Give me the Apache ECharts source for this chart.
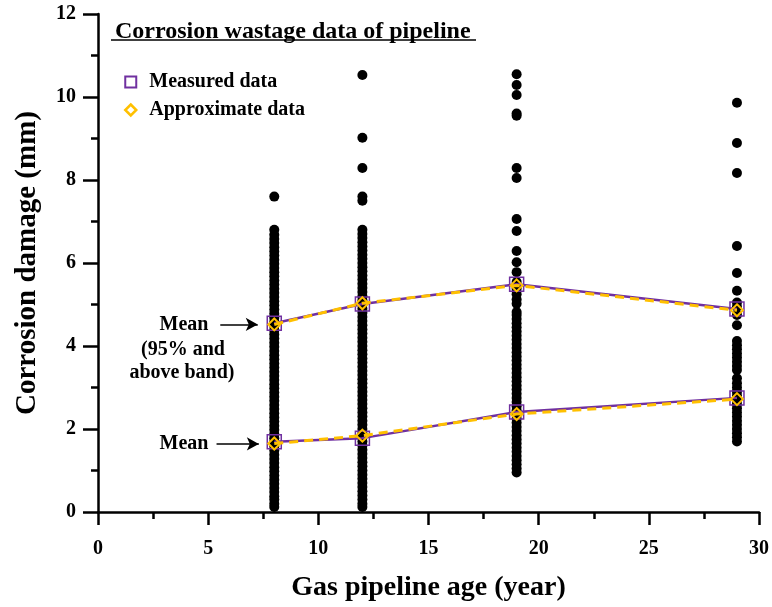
<!DOCTYPE html>
<html>
<head>
<meta charset="utf-8">
<script src="https://cdn.jsdelivr.net/npm/echarts@6/dist/echarts.min.js"></script>
<style>
  html, body { margin: 0; padding: 0; background: #fff; }
  #chart { width: 772px; height: 607px; }
</style>
</head>
<body>
<div id="chart"></div>
<script>
// Pipeline ages at which wall-loss readings were taken (years)
const ages = [8, 12, 19, 29];

// Individual corrosion depth readings (mm) per pipeline age
const depth8 = [0.12, 0.2, 0.3, 0.38, 0.48, 0.58, 0.68, 0.78, 0.88, 0.98, 1.08, 1.18, 1.28, 1.38, 1.48, 1.58,
  1.68, 1.78, 1.88, 1.98, 2.08, 2.18, 2.28, 2.38, 2.48, 2.58, 2.68, 2.78, 2.88, 2.98, 3.08, 3.18, 3.28, 3.38,
  3.48, 3.58, 3.68, 3.78, 3.88, 3.98, 4.08, 4.18, 4.28, 4.38, 4.48, 4.58, 4.68, 4.78, 4.88, 4.98, 5.08, 5.18,
  5.28, 5.38, 5.48, 5.58, 5.68, 5.78, 5.88, 5.98, 6.08, 6.18, 6.28, 6.38, 6.48, 6.58, 6.68, 6.8, 7.6];
const depth12 = [0.12, 0.2, 0.3, 0.4, 0.5, 0.6, 0.7, 0.8, 0.9, 1.0, 1.1, 1.2, 1.3, 1.4, 1.5, 1.6, 1.7, 1.8,
  1.9, 2.0, 2.1, 2.2, 2.3, 2.4, 2.5, 2.6, 2.7, 2.8, 2.9, 3.0, 3.1, 3.2, 3.3, 3.4, 3.5, 3.6, 3.7, 3.8, 3.9, 4.0,
  4.1, 4.2, 4.3, 4.4, 4.5, 4.6, 4.7, 4.8, 4.9, 5.0, 5.1, 5.2, 5.3, 5.4, 5.5, 5.6, 5.7, 5.8, 5.9, 6.0, 6.1, 6.2,
  6.3, 6.4, 6.5, 6.6, 6.7, 6.8, 7.5, 7.6, 8.29, 9.02, 10.53];
const depth19 = [0.95, 1.05, 1.15, 1.25, 1.35, 1.45, 1.55, 1.65, 1.75, 1.85, 1.95, 2.05, 2.15, 2.25, 2.35,
  2.45, 2.55, 2.65, 2.75, 2.85, 2.95, 3.05, 3.15, 3.25, 3.35, 3.45, 3.55, 3.65, 3.75, 3.85, 3.95, 4.05, 4.15,
  4.25, 4.35, 4.45, 4.55, 4.65, 4.75, 4.82, 5.02, 5.12, 5.25, 5.38, 5.54, 5.78, 6.02, 6.29, 6.77, 7.06, 8.05,
  8.29, 9.55, 9.6, 10.05, 10.29, 10.55];
const depth29 = [1.7, 1.8, 1.9, 2.0, 2.1, 2.2, 2.3, 2.4, 2.5, 2.6, 2.7, 2.8, 2.9, 3.0, 3.1, 3.22, 3.42, 3.52,
  3.62, 3.72, 3.82, 3.92, 4.02, 4.12, 4.5, 4.75, 4.94, 5.05, 5.33, 5.76, 6.41, 8.17, 8.89, 9.86];

// Mean values: all readings and the 95%-and-above band
const measuredMean = [1.69, 1.78, 2.41, 2.75];
const measuredUpper = [4.55, 5.01, 5.49, 4.89];
const approxMean = [1.65, 1.84, 2.36, 2.72];
const approxUpper = [4.52, 5.03, 5.46, 4.86];

// Axis ranges and tick step
const xTicks = { min: 0, max: 30, step: 5 };
const yTicks = { min: 0, max: 12, step: 2 };

const FONT = '"Liberation Serif", "DejaVu Serif", serif';
const PURPLE = '#7030A0';
const ORANGE = '#FFC000';

const readings = [];
[depth8, depth12, depth19, depth29].forEach((col, i) => {
  col.forEach(v => readings.push([ages[i], v]));
});
const pairs = vals => vals.map((v, i) => [ages[i], v]);

const axisCommon = {
  axisLine: { show: true, onZero: false, lineStyle: { color: '#000', width: 2.5 } },
  axisTick: { show: true, inside: false, length: 13, lineStyle: { color: '#000', width: 2.5 } },
  minorTick: { show: true, splitNumber: 2, length: 7, lineStyle: { color: '#000', width: 2.5 } },
  splitLine: { show: false },
  axisLabel: { color: '#000', fontFamily: FONT, fontWeight: 'bold', fontSize: 20 },
  nameTextStyle: { color: '#000', fontFamily: FONT, fontWeight: 'bold', fontSize: 28 }
};

const noteFont = 'bold 20px ' + FONT;

const chart = echarts.init(document.getElementById('chart'));
chart.setOption({
  animation: false,
  backgroundColor: '#fff',
  grid: { left: 98, right: 9, top: 14, bottom: 95 },
  title: {
    text: 'Corrosion wastage data of pipeline',
    left: 110, top: 15,
    textStyle: { color: '#000', fontFamily: FONT, fontWeight: 'bold', fontSize: 24 }
  },
  legend: {
    orient: 'vertical',
    left: 119, top: 67,
    itemWidth: 11, itemHeight: 11, itemGap: 8,
    textStyle: { color: '#000', fontFamily: FONT, fontWeight: 'bold', fontSize: 20, padding: [0, 0, 0, 8] },
    data: [
      { name: 'Measured data', icon: 'rect', itemStyle: { color: 'rgba(0,0,0,0)', borderColor: PURPLE, borderWidth: 2 } },
      { name: 'Approximate data', icon: 'diamond', itemStyle: { color: 'rgba(0,0,0,0)', borderColor: ORANGE, borderWidth: 2.5 } }
    ]
  },
  graphic: [
    { type: 'line', shape: { x1: 111, y1: 40, x2: 476, y2: 40 }, style: { stroke: '#000', lineWidth: 1.5 } },
    { type: 'text', x: 184, y: 325, style: { text: 'Mean', font: noteFont, fill: '#000', align: 'center', verticalAlign: 'middle' } },
    { type: 'text', x: 183, y: 350, style: { text: '(95% and', font: noteFont, fill: '#000', align: 'center', verticalAlign: 'middle' } },
    { type: 'text', x: 182, y: 373, style: { text: 'above band)', font: noteFont, fill: '#000', align: 'center', verticalAlign: 'middle' } },
    { type: 'text', x: 184, y: 444, style: { text: 'Mean', font: noteFont, fill: '#000', align: 'center', verticalAlign: 'middle' } }
  ],
  xAxis: Object.assign({}, axisCommon, {
    type: 'value', min: xTicks.min, max: xTicks.max, interval: xTicks.step,
    name: 'Gas pipeline age (year)', nameLocation: 'middle', nameGap: 62,
    axisLabel: Object.assign({}, axisCommon.axisLabel, { margin: 27 })
  }),
  yAxis: Object.assign({}, axisCommon, {
    type: 'value', min: yTicks.min, max: yTicks.max, interval: yTicks.step,
    name: 'Corrosion damage (mm)', nameLocation: 'middle', nameGap: 56,
    nameTextStyle: Object.assign({}, axisCommon.nameTextStyle, { fontSize: 29 }),
    axisTick: Object.assign({}, axisCommon.axisTick, { length: 15 }),
    axisLabel: Object.assign({}, axisCommon.axisLabel, { margin: 22 })
  }),
  series: [
    {
      name: 'Readings', type: 'scatter', data: readings, z: 2,
      symbol: 'circle', symbolSize: 10,
      itemStyle: { color: '#000', opacity: 1 },
      markLine: {
        silent: true, symbol: ['none', 'arrow'], symbolSize: [10, 12],
        label: { show: false },
        lineStyle: { color: '#000', width: 1.5, type: 'solid' },
        data: [
          [{ coord: [5.55, 4.52] }, { coord: [7.25, 4.52] }],
          [{ coord: [5.38, 1.64] }, { coord: [7.3, 1.64] }]
        ]
      }
    },
    {
      name: 'Measured data', type: 'line', data: pairs(measuredUpper), z: 4,
      symbol: 'rect', symbolSize: 14,
      lineStyle: { color: PURPLE, width: 2.5 },
      itemStyle: { color: 'rgba(0,0,0,0)', borderColor: PURPLE, borderWidth: 1.5 }
    },
    {
      name: 'Measured data', type: 'line', data: pairs(measuredMean), z: 4,
      symbol: 'rect', symbolSize: 14,
      lineStyle: { color: PURPLE, width: 2.5 },
      itemStyle: { color: 'rgba(0,0,0,0)', borderColor: PURPLE, borderWidth: 1.5 }
    },
    {
      name: 'Approximate data', type: 'line', data: pairs(approxUpper), z: 5,
      symbol: 'diamond', symbolSize: 12,
      lineStyle: { color: ORANGE, width: 3, type: [9, 6] },
      itemStyle: { color: 'rgba(0,0,0,0)', borderColor: ORANGE, borderWidth: 2 }
    },
    {
      name: 'Approximate data', type: 'line', data: pairs(approxMean), z: 5,
      symbol: 'diamond', symbolSize: 12,
      lineStyle: { color: ORANGE, width: 3, type: [9, 6] },
      itemStyle: { color: 'rgba(0,0,0,0)', borderColor: ORANGE, borderWidth: 2 }
    }
  ]
});
</script>
</body>
</html>
